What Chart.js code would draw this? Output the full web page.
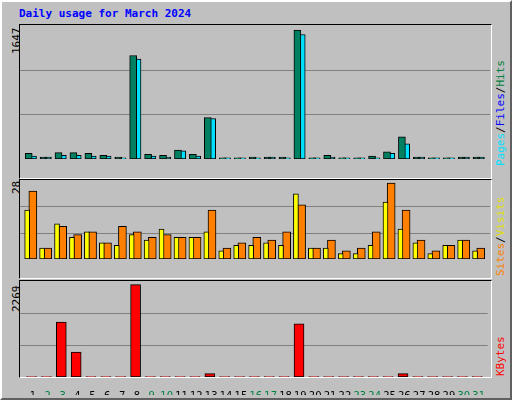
<!DOCTYPE html>
<html><head><meta charset="utf-8">
<script src="https://cdn.jsdelivr.net/npm/chart.js@4"></script>
<style>
body{margin:0;width:512px;height:400px;background:#c0c0c0;position:relative;overflow:hidden;font-family:"DejaVu Sans Mono",monospace}
.bev{position:absolute;left:0;top:0;width:508px;height:396px;border-top:2px solid #fff;border-left:2px solid #fff;border-right:2px solid #606060;border-bottom:2px solid #606060}
.outer{position:absolute;left:0;top:0;width:510px;height:398px;border-right:1px solid #000;border-bottom:1px solid #000}
.panel{position:absolute;left:19px;width:471px;border:1px solid #000;border-right:1px solid #fff;border-bottom:1px solid #fff;box-sizing:content-box}
canvas{position:absolute}
.rot{position:absolute;transform-origin:0 0;transform:rotate(-90deg);white-space:nowrap;font-size:11px}
#title{position:absolute;left:19px;top:7px;color:#0000ff;font-weight:bold;font-size:11px}
</style></head><body>
<div class="outer"></div><div class="bev"></div>
<div id="title">Daily usage for March 2024</div>
<div class="panel" style="top:24px;height:153px"></div>
<div class="panel" style="top:179px;height:98px"></div>
<div class="panel" style="top:280px;height:96px"></div>
<div class="rot" style="left:10px;top:54px">1647</div>
<div class="rot" style="left:10px;top:194px">28</div>
<div class="rot" style="left:10px;top:312px">2269</div>
<div class="rot" style="left:494px;top:166px"><span style="color:#00e0ff">Pages</span>/<span style="color:#0000ff">Files</span>/<span style="color:#008040">Hits</span></div>
<div class="rot" style="left:494px;top:276px"><span style="color:#ff8000">Sites</span>/<span style="color:#e0e000">Visits</span></div>
<div class="rot" style="left:494px;top:376px"><span style="color:#ff0000">KBytes</span></div>
<canvas id="c1" style="left:20px;top:25px;width:470px;height:152px"></canvas>
<canvas id="c2" style="left:20px;top:180px;width:470px;height:97px"></canvas>
<canvas id="c3" style="left:20px;top:281px;width:470px;height:114px"></canvas>
<script>
const days=[1,2,3,4,5,6,7,8,9,10,11,12,13,14,15,16,17,18,19,20,21,22,23,24,25,26,27,28,29,30,31];
const weekend=[2,3,9,10,16,17,23,24,30,31];
const hits=[71,26,82,82,71,48,26,1323,60,48,115,60,529,15,15,26,26,26,1647,15,48,15,15,37,93,283,26,15,15,26,26];
const pages=[37,26,48,48,37,37,15,1278,37,26,104,37,518,15,15,15,26,15,1591,15,26,15,15,15,71,194,26,15,15,26,26];
const files=[10,3,12,5,3,3,3,30,3,3,8,3,10,2,2,3,3,3,25,2,3,2,2,3,6,10,3,2,2,3,3];
const visits=[18,4,13,8,10,6,5,9,7,11,8,8,10,3,5,5,6,5,24,4,4,2,2,5,21,11,6,2,5,7,3];
const sites=[25,4,12,9,10,6,12,10,8,9,8,8,18,4,6,8,7,10,20,4,7,3,4,10,28,18,7,3,5,7,4];
const kbytes=[8,8,1353,611,8,8,8,2269,8,8,8,8,83,8,8,8,8,8,1304,8,8,8,8,8,8,83,8,8,8,8,8];
const maxTop=1647,maxMid=28,maxBot=2269;
const XMIN=0.27,XMAX=31.75;
function pts(arr,off){return arr.map((v,i)=>({x:days[i]+off,y:v}));}
function ds(arr,off,col,w){return {data:pts(arr,off),grouped:false,backgroundColor:col,borderColor:'#000',borderWidth:1,barThickness:w,borderSkipped:false};}
const gridPlugin={id:'g',beforeDatasetsDraw(c){const a=c.chartArea,x=c.ctx;x.save();x.fillStyle='#c0c0c0';x.fillRect(a.left,a.top,a.width,a.height);x.strokeStyle='#808080';x.lineWidth=1;for(const f of [1/3,2/3]){const y=Math.round(a.bottom-(a.bottom-a.top)*f)+0.5;x.beginPath();x.moveTo(a.left,y);x.lineTo(a.right,y);x.stroke();}x.restore();}};
function mk(id,datasets,max,showX){
 return new Chart(document.getElementById(id),{type:'bar',data:{datasets},plugins:[gridPlugin],
 options:{animation:false,responsive:false,devicePixelRatio:1,layout:{padding:0},plugins:{legend:{display:false},tooltip:{enabled:false}},
 scales:{x:{type:'linear',min:XMIN,max:XMAX,offset:false,display:showX,grid:{display:false,offset:false},border:{display:false},
  afterBuildTicks(s){s.ticks=days.map(d=>({value:d+0.14}));},
  afterFit(s){s.height=18;},
  ticks:{autoSkip:false,maxRotation:0,padding:5,font:{family:'DejaVu Sans',size:10},
   callback:(v)=>String(Math.round(v-0.14)),
   color:(c)=>weekend.includes(Math.round(c.tick.value-0.14))?'#008040':'#000'}},
  y:{display:false,min:0,max:max*1.04}}}});
}
function size(id,w,h){const c=document.getElementById(id);c.width=w;c.height=h;}
size('c1',470,152);size('c2',470,97);size('c3',470,114);
mk('c1',[ds(hits,-0.15,'#008060',7),ds(pages,0.14,'#00e0ff',7),ds(files,-0.24,'#0000ff',2)],maxTop,false);
mk('c2',[ds(visits,-0.25,'#ffff00',5),ds(sites,0.13,'#ff8000',8)],maxMid,false);
mk('c3',[ds(kbytes,0.05,'#ff0000',10)],maxBot,true);
</script></body></html>
